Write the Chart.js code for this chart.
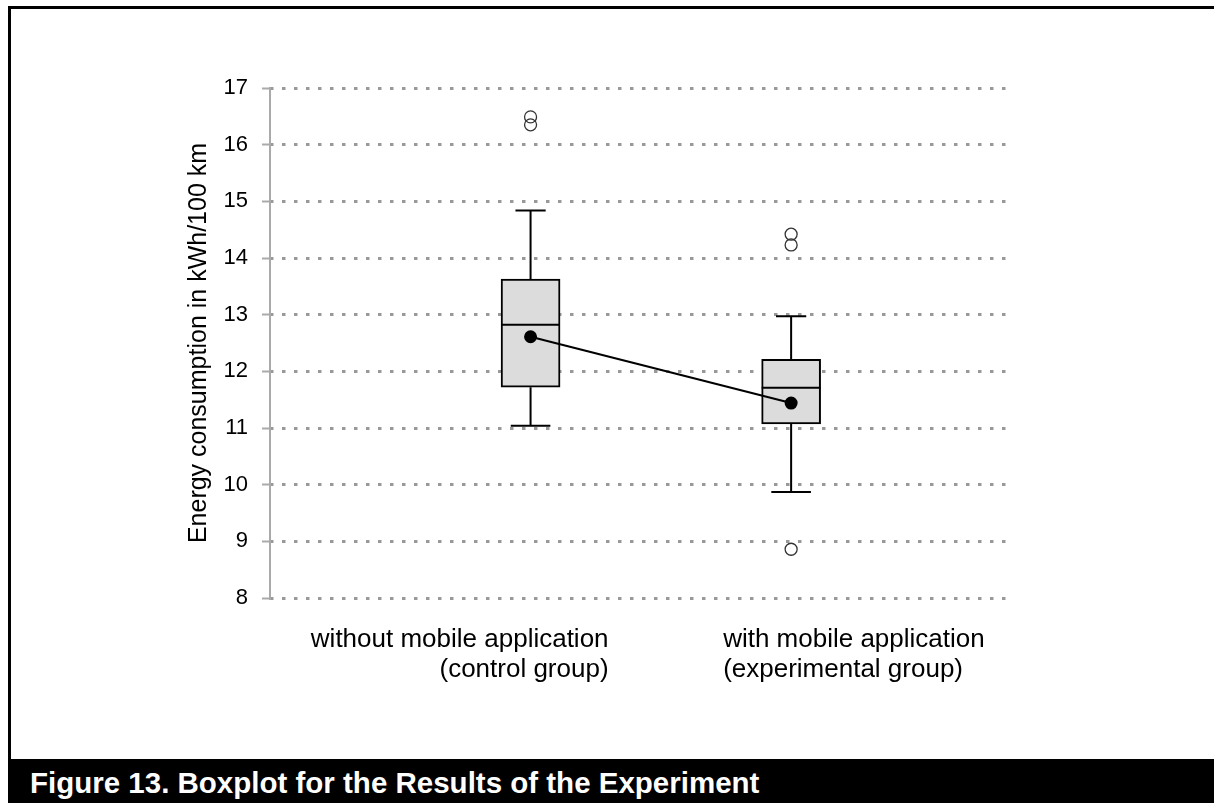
<!DOCTYPE html>
<html>
<head>
<meta charset="utf-8">
<script src="https://cdn.jsdelivr.net/npm/chart.js@4.4.1/dist/chart.umd.min.js"></script>
<style>
  html, body { margin: 0; padding: 0; background: #fff; }
  body { width: 1214px; height: 803px; position: relative; overflow: hidden; font-family: "Liberation Sans", Arial, Helvetica, sans-serif; }
  #frame { position: absolute; left: 8px; top: 6px; width: 1230px; height: 760px; border-left: 3px solid #000; border-top: 3px solid #000; box-sizing: border-box; }
  #wrap { position: absolute; left: 0; top: 0; width: 1214px; height: 759px; }
  #caption { position: absolute; left: 8px; top: 759px; width: 1206px; height: 44px; background: #000; color: #fff;
    font-weight: bold; font-size: 29.5px; line-height: 44px; padding-left: 22px; padding-top: 2px; box-sizing: border-box; white-space: nowrap; }
</style>
</head>
<body>
<div id="wrap"><canvas id="boxChart"></canvas></div>
<div id="frame"></div>
<div id="caption">Figure 13. Boxplot for the Results of the Experiment</div>
<script>
// group positions on the x scale and their labels
const groups = [1, 2];
const categoryLabels = [
  ['without mobile application', '(control group)'],
  ['with mobile application', '(experimental group)']
];

// boxplot values (kWh/100 km)
const q1 = [11.72, 11.07];
const median = [12.82, 11.71];
const q3 = [13.63, 12.21];
const whiskerLow = [11.04, 9.87];
const whiskerHigh = [14.84, 12.97];
const means = [12.61, 11.44];
const outliers = [[16.49, 16.35], [14.42, 14.23, 8.86]];

const yMin = 8, yMax = 17;

const FONT = '"Liberation Sans", Arial, Helvetica, sans-serif';
const boxHalf = 0.113;      // half box width in x units
const capHighHalf = 0.058;  // upper whisker cap
const capLowHalf = 0.076;   // lower whisker cap

// line segments separated by gaps
function segments(list) {
  const pts = [];
  list.forEach(s => { pts.push(s[0], s[1], { x: s[1].x, y: null }); });
  return pts;
}

const whiskerSegs = [];
const medianSegs = [];
groups.forEach((g, i) => {
  whiskerSegs.push([{ x: g, y: q3[i] }, { x: g, y: whiskerHigh[i] }]);
  whiskerSegs.push([{ x: g - capHighHalf, y: whiskerHigh[i] }, { x: g + capHighHalf, y: whiskerHigh[i] }]);
  whiskerSegs.push([{ x: g, y: q1[i] }, { x: g, y: whiskerLow[i] }]);
  whiskerSegs.push([{ x: g - capLowHalf, y: whiskerLow[i] }, { x: g + capLowHalf, y: whiskerLow[i] }]);
  medianSegs.push([{ x: g - boxHalf, y: median[i] }, { x: g + boxHalf, y: median[i] }]);
});

const outlierPoints = [];
groups.forEach((g, i) => outliers[i].forEach(v => outlierPoints.push({ x: g, y: v })));

// category labels under the boxes
const categoryLabelPlugin = {
  id: 'categoryLabels',
  afterDraw(chart) {
    const ctx = chart.ctx;
    const xs = chart.scales.x;
    ctx.save();
    ctx.font = '26px ' + FONT;
    ctx.fillStyle = '#000';
    ctx.textBaseline = 'alphabetic';
    const base = chart.chartArea.bottom + 49;
    ctx.textAlign = 'right';
    categoryLabels[0].forEach((t, k) => ctx.fillText(t, xs.getPixelForValue(groups[0]) + 78, base + k * 30));
    ctx.textAlign = 'left';
    categoryLabels[1].forEach((t, k) => ctx.fillText(t, xs.getPixelForValue(groups[1]) - 68, base + k * 30));
    ctx.restore();
  }
};

const ctx = document.getElementById('boxChart').getContext('2d');
new Chart(ctx, {
  type: 'bar',
  data: {
    datasets: [
      {
        type: 'scatter',
        label: 'outliers',
        data: outlierPoints,
        pointStyle: 'circle',
        pointRadius: 6,
        pointBackgroundColor: 'rgba(255,255,255,0)',
        pointBorderColor: '#333',
        pointBorderWidth: 1.3,
        order: 1
      },
      {
        type: 'line',
        label: 'mean',
        data: groups.map((g, i) => ({ x: g, y: means[i] })),
        borderColor: '#000',
        borderWidth: 2,
        pointRadius: 5.5,
        pointBackgroundColor: '#000',
        pointBorderColor: '#000',
        fill: false,
        tension: 0,
        order: 1
      },
      {
        type: 'line',
        label: 'median',
        data: segments(medianSegs),
        borderColor: '#000',
        borderWidth: 2,
        pointRadius: 0,
        spanGaps: false,
        fill: false,
        order: 2
      },
      {
        type: 'line',
        label: 'whiskers',
        data: segments(whiskerSegs),
        borderColor: '#000',
        borderWidth: 2,
        pointRadius: 0,
        spanGaps: false,
        fill: false,
        order: 2
      },
      {
        type: 'bar',
        label: 'box',
        data: groups.map((g, i) => ({ x: g, y: [q1[i], q3[i]] })),
        backgroundColor: '#dcdcdc',
        borderColor: '#000',
        borderWidth: 2,
        borderSkipped: false,
        barThickness: 59,
        order: 3
      }
    ]
  },
  options: {
    responsive: true,
    maintainAspectRatio: false,
    animation: false,
    layout: { padding: { top: 88, right: 204, bottom: 153, left: 0 } },
    plugins: {
      legend: { display: false },
      tooltip: { enabled: false }
    },
    scales: {
      x: {
        type: 'linear',
        min: 0,
        max: 2.84,
        offset: false,
        ticks: { display: false },
        grid: { display: false },
        border: { display: false }
      },
      y: {
        min: yMin,
        max: yMax,
        afterFit: s => { s.width = 270; },
        ticks: {
          stepSize: 1,
          color: '#000',
          padding: 14,
          font: { family: FONT, size: 22 }
        },
        grid: {
          color: '#999',
          lineWidth: 3,
          tickLength: 8,
          tickColor: '#aaa',
          tickWidth: 2,
          tickBorderDash: []
        },
        border: {
          display: true,
          color: '#aaa',
          width: 2,
          dash: [3.5, 8.5],
          dashOffset: 1
        },
        title: {
          display: true,
          text: 'Energy consumption in kWh/100 km',
          color: '#000',
          font: { family: FONT, size: 25 },
          padding: { top: 184, bottom: 0 }
        }
      }
    }
  },
  plugins: [categoryLabelPlugin]
});
</script>
</body>
</html>
